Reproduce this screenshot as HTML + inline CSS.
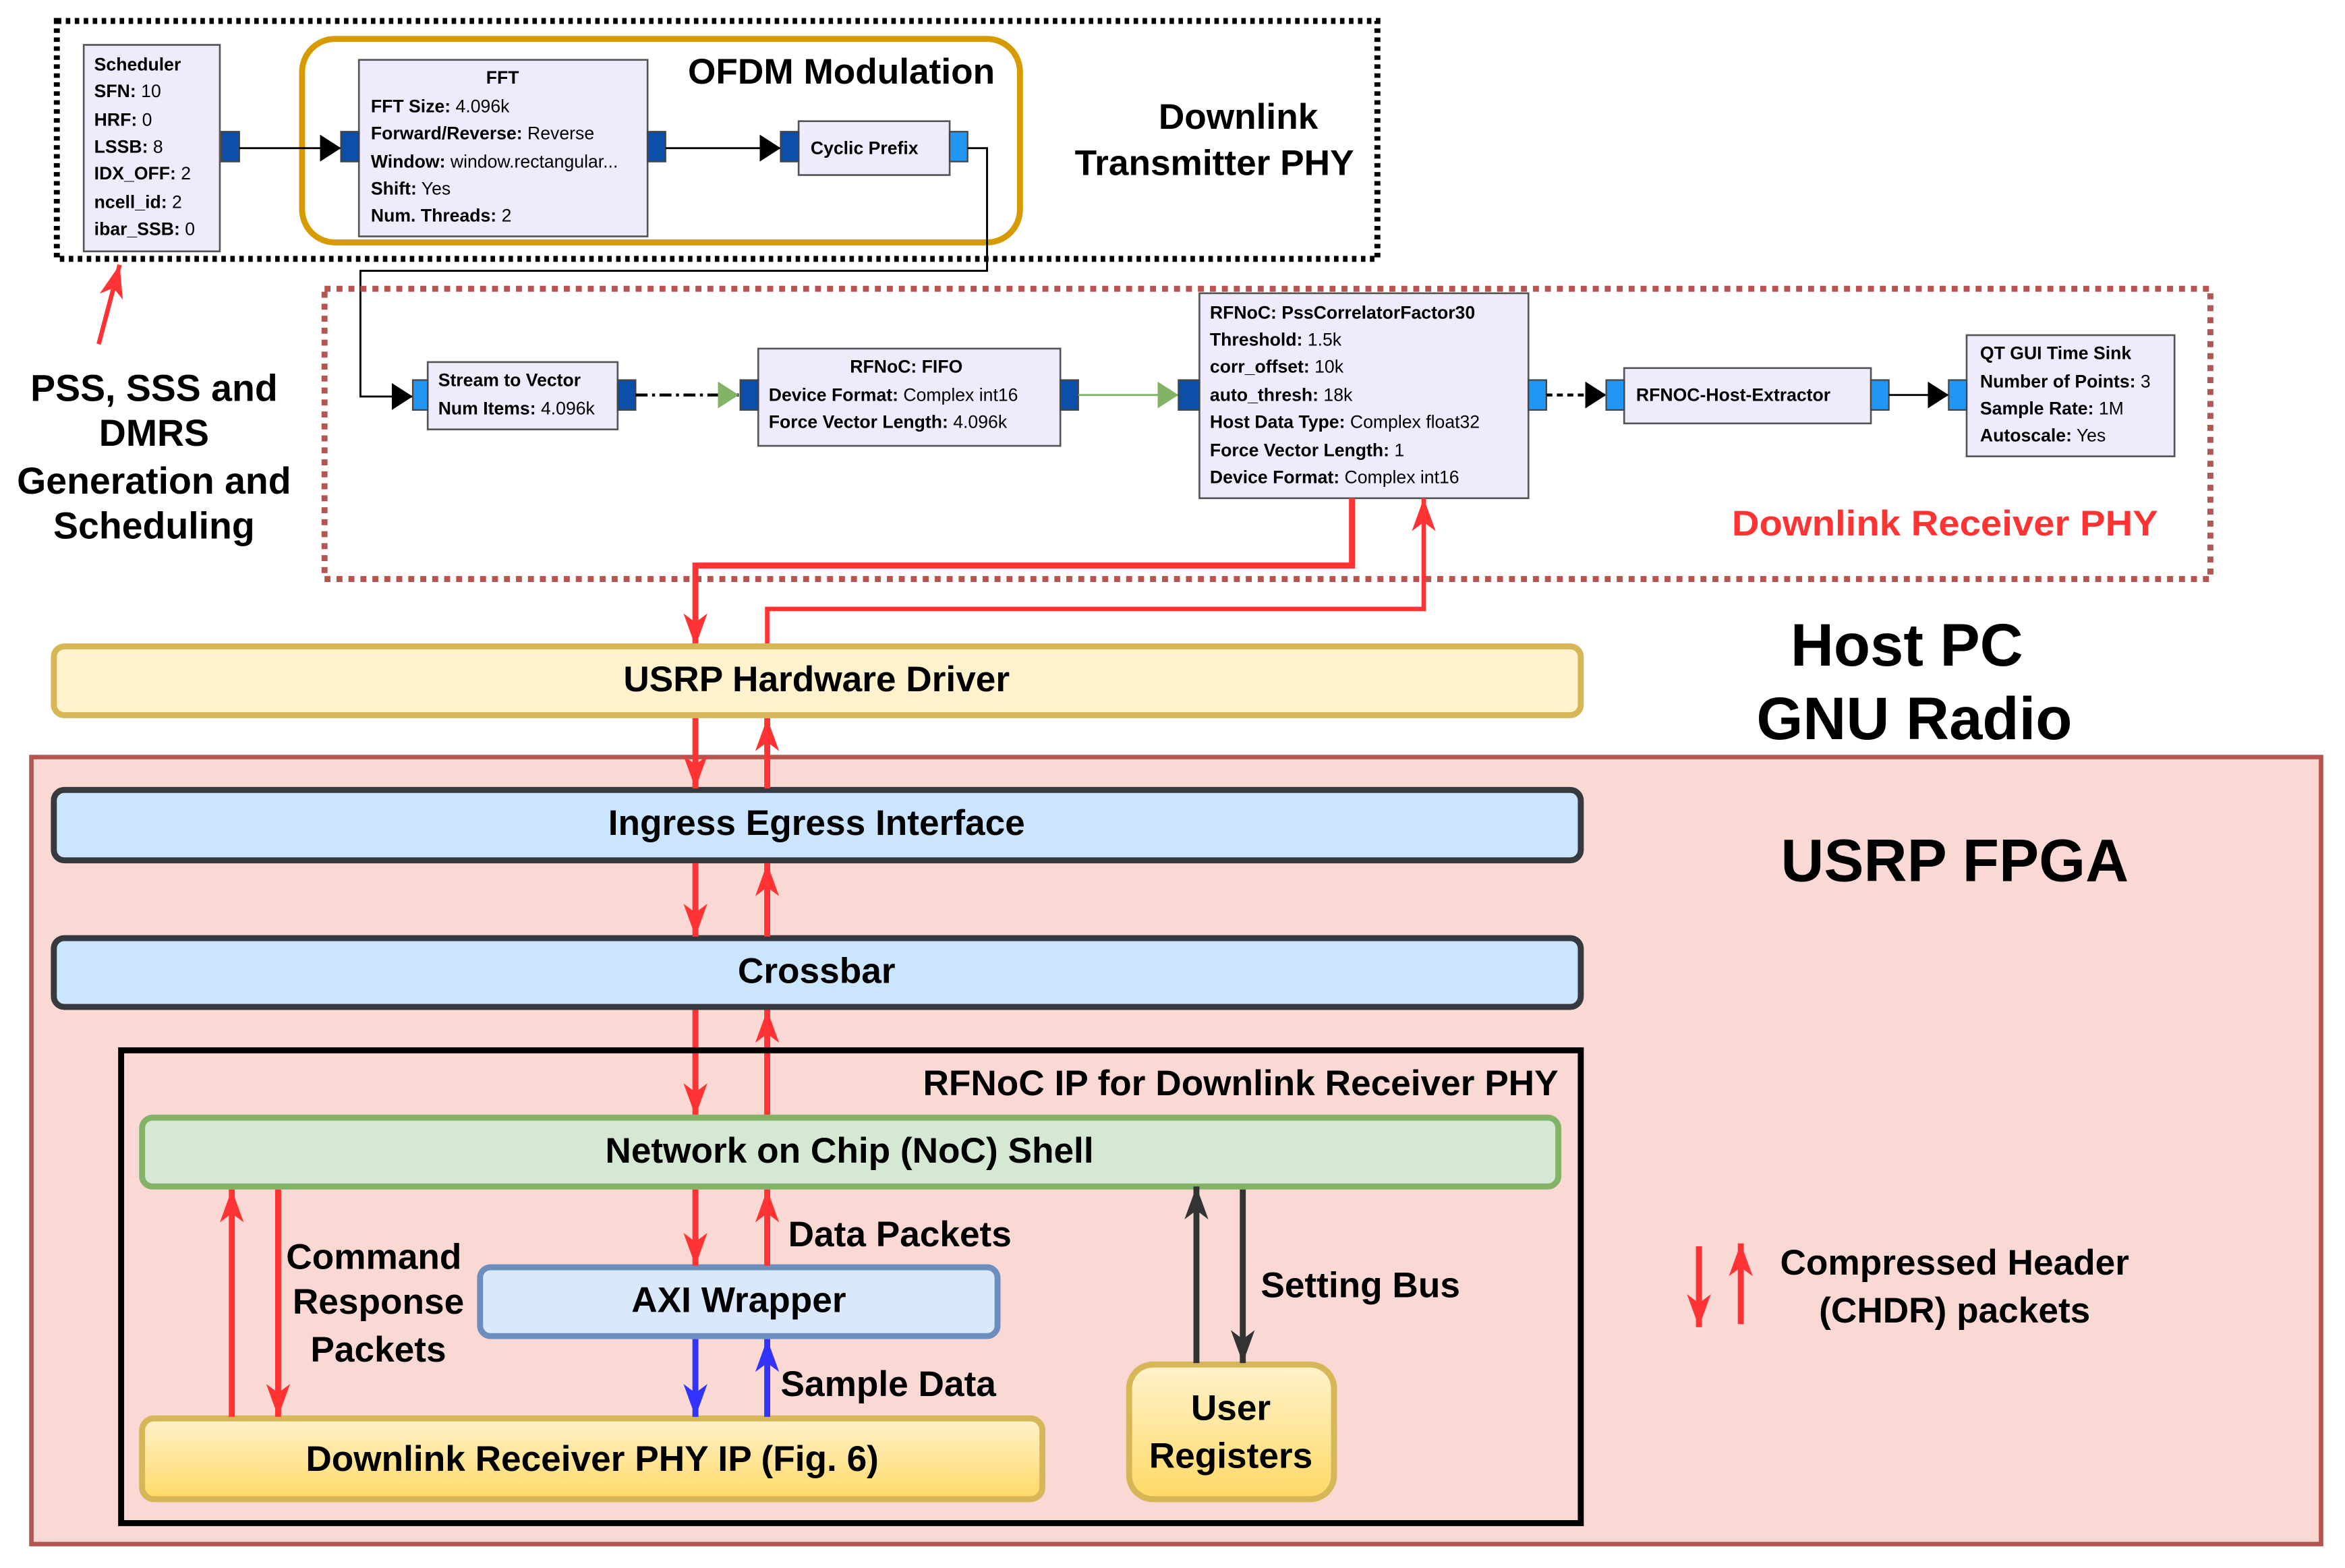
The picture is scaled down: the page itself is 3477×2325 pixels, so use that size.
<!DOCTYPE html>
<html><head><meta charset="utf-8"><style>
html,body{margin:0;padding:0;background:#fff;}
svg{display:block;}
text{font-family:"Liberation Sans",sans-serif;}
.b{font-weight:bold;}
.g{font-size:12px;}
.L{font-size:24px;font-weight:bold;}
</style></head><body>
<svg width="3477" height="2325" viewBox="0 0 1568 1048" preserveAspectRatio="none" xmlns="http://www.w3.org/2000/svg">
<defs>
<marker id="mr" markerUnits="userSpaceOnUse" markerWidth="24" markerHeight="18" refX="22" refY="9" orient="auto"><path d="M0,1 L22,9 L0,17 L6,9 Z" fill="#ff3333"/></marker>
<marker id="mb" markerUnits="userSpaceOnUse" markerWidth="24" markerHeight="18" refX="22" refY="9" orient="auto"><path d="M0,1 L22,9 L0,17 L6,9 Z" fill="#3333ff"/></marker>
<marker id="md" markerUnits="userSpaceOnUse" markerWidth="24" markerHeight="18" refX="22" refY="9" orient="auto"><path d="M0,1 L22,9 L0,17 L6,9 Z" fill="#333333"/></marker>
<marker id="mk" markerUnits="userSpaceOnUse" markerWidth="16" markerHeight="20" refX="14" refY="10" orient="auto"><path d="M0,1 L14,10 L0,19 Z" fill="#000"/></marker>
<marker id="mg" markerUnits="userSpaceOnUse" markerWidth="16" markerHeight="20" refX="14" refY="10" orient="auto"><path d="M0,1 L14,10 L0,19 Z" fill="#82b366"/></marker>
<linearGradient id="yg" x1="0" y1="0" x2="0" y2="1"><stop offset="0" stop-color="#fff2cc"/><stop offset="1" stop-color="#ffd966"/></linearGradient>
</defs>

<rect x="38" y="14" width="883" height="159" fill="none" stroke="#000" stroke-width="4" stroke-dasharray="3,3"/>
<rect x="202" y="26" width="480" height="136" rx="22" fill="none" stroke="#d79b00" stroke-width="4"/>
<text x="460" y="56" class="L">OFDM Modulation</text>
<text x="828" y="86" class="L" text-anchor="middle">Downlink</text>
<text x="812" y="117" class="L" text-anchor="middle">Transmitter PHY</text>

<rect x="56" y="30" width="91" height="138" fill="#efebfd" stroke="#555" stroke-width="1.2"/>
<g class="g">
<text x="63" y="47" class="b">Scheduler</text>
<text x="63" y="65"><tspan class="b">SFN:</tspan> 10</text>
<text x="63" y="84"><tspan class="b">HRF:</tspan> 0</text>
<text x="63" y="102"><tspan class="b">LSSB:</tspan> 8</text>
<text x="63" y="120"><tspan class="b">IDX_OFF:</tspan> 2</text>
<text x="63" y="139"><tspan class="b">ncell_id:</tspan> 2</text>
<text x="63" y="157"><tspan class="b">ibar_SSB:</tspan> 0</text>
</g>
<rect x="148" y="88" width="12" height="20" fill="#0b4fa8" stroke="#444"/>
<line x1="160" y1="99" x2="228" y2="99" stroke="#000" stroke-width="1.3" marker-end="url(#mk)"/>

<rect x="240" y="40" width="193" height="118" fill="#efebfd" stroke="#555" stroke-width="1.2"/>
<g class="g">
<text x="336" y="56" class="b" text-anchor="middle">FFT</text>
<text x="248" y="75"><tspan class="b">FFT Size:</tspan> 4.096k</text>
<text x="248" y="93"><tspan class="b">Forward/Reverse:</tspan> Reverse</text>
<text x="248" y="112"><tspan class="b">Window:</tspan> window.rectangular...</text>
<text x="248" y="130"><tspan class="b">Shift:</tspan> Yes</text>
<text x="248" y="148"><tspan class="b">Num. Threads:</tspan> 2</text>
</g>
<rect x="228" y="88" width="12" height="20" fill="#0b4fa8" stroke="#444"/>
<rect x="433" y="88" width="12" height="20" fill="#0b4fa8" stroke="#444"/>
<line x1="445" y1="99" x2="522" y2="99" stroke="#000" stroke-width="1.3" marker-end="url(#mk)"/>
<rect x="534" y="81" width="101" height="36" fill="#efebfd" stroke="#555" stroke-width="1.2"/>
<text x="542" y="103" class="g b">Cyclic Prefix</text>
<rect x="522" y="88" width="12" height="20" fill="#0b4fa8" stroke="#444"/>
<rect x="635" y="88" width="12" height="20" fill="#2196f3" stroke="#444"/>
<polyline points="647,99 660,99 660,181 241,181 241,265 276,265" fill="none" stroke="#000" stroke-width="1.3" marker-end="url(#mk)"/>

<line x1="66" y1="230" x2="80" y2="177" stroke="#ff3333" stroke-width="3" marker-end="url(#mr)"/>
<g class="L" text-anchor="middle" style="font-size:25px">
<text x="103" y="268">PSS, SSS and</text>
<text x="103" y="298">DMRS</text>
<text x="103" y="330">Generation and</text>
<text x="103" y="360">Scheduling</text>
</g>

<rect x="217" y="193" width="1261" height="194" fill="none" stroke="#b85450" stroke-width="4" stroke-dasharray="4,4"/>
<rect x="286" y="242" width="127" height="45" fill="#efebfd" stroke="#555" stroke-width="1.2"/>
<g class="g">
<text x="293" y="258" class="b">Stream to Vector</text>
<text x="293" y="277"><tspan class="b">Num Items:</tspan> 4.096k</text>
</g>
<rect x="276" y="254" width="10" height="20" fill="#2196f3" stroke="#444"/>
<rect x="413" y="254" width="12" height="20" fill="#0b4fa8" stroke="#444"/>
<line x1="425" y1="264" x2="494" y2="264" stroke="#000" stroke-width="2" stroke-dasharray="8,3,2,3" marker-end="url(#mg)"/>
<rect x="507" y="233" width="202" height="65" fill="#efebfd" stroke="#555" stroke-width="1.2"/>
<g class="g">
<text x="606" y="249" class="b" text-anchor="middle">RFNoC: FIFO</text>
<text x="514" y="268"><tspan class="b">Device Format:</tspan> Complex int16</text>
<text x="514" y="286"><tspan class="b">Force Vector Length:</tspan> 4.096k</text>
</g>
<rect x="495" y="254" width="12" height="20" fill="#0b4fa8" stroke="#444"/>
<rect x="709" y="254" width="12" height="20" fill="#0b4fa8" stroke="#444"/>
<line x1="721" y1="264" x2="788" y2="264" stroke="#82b366" stroke-width="1.3" marker-end="url(#mg)"/>
<rect x="802" y="196" width="220" height="137" fill="#efebfd" stroke="#555" stroke-width="1.2"/>
<g class="g">
<text x="809" y="213" class="b">RFNoC: PssCorrelatorFactor30</text>
<text x="809" y="231"><tspan class="b">Threshold:</tspan> 1.5k</text>
<text x="809" y="249"><tspan class="b">corr_offset:</tspan> 10k</text>
<text x="809" y="268"><tspan class="b">auto_thresh:</tspan> 18k</text>
<text x="809" y="286"><tspan class="b">Host Data Type:</tspan> Complex float32</text>
<text x="809" y="305"><tspan class="b">Force Vector Length:</tspan> 1</text>
<text x="809" y="323"><tspan class="b">Device Format:</tspan> Complex int16</text>
</g>
<rect x="788" y="254" width="14" height="20" fill="#0b4fa8" stroke="#444"/>
<rect x="1022" y="254" width="12" height="20" fill="#2196f3" stroke="#444"/>
<line x1="1034" y1="264" x2="1074" y2="264" stroke="#000" stroke-width="2" stroke-dasharray="4,3" marker-end="url(#mk)"/>
<rect x="1086" y="246" width="165" height="37" fill="#efebfd" stroke="#555" stroke-width="1.2"/>
<text x="1094" y="268" class="g b">RFNOC-Host-Extractor</text>
<rect x="1074" y="254" width="12" height="20" fill="#2196f3" stroke="#444"/>
<rect x="1251" y="254" width="12" height="20" fill="#2196f3" stroke="#444"/>
<line x1="1263" y1="264" x2="1303" y2="264" stroke="#000" stroke-width="1.3" marker-end="url(#mk)"/>
<rect x="1315" y="224" width="139" height="81" fill="#efebfd" stroke="#555" stroke-width="1.2"/>
<g class="g">
<text x="1324" y="240" class="b">QT GUI Time Sink</text>
<text x="1324" y="259"><tspan class="b">Number of Points:</tspan> 3</text>
<text x="1324" y="277"><tspan class="b">Sample Rate:</tspan> 1M</text>
<text x="1324" y="295"><tspan class="b">Autoscale:</tspan> Yes</text>
</g>
<rect x="1303" y="254" width="12" height="20" fill="#2196f3" stroke="#444"/>
<text x="1158" y="358" class="L" fill="#ff3333" textLength="285" lengthAdjust="spacingAndGlyphs">Downlink Receiver PHY</text>

<polyline points="904,333 904,378 465,378 465,432" fill="none" stroke="#ff3333" stroke-width="4" marker-end="url(#mr)"/>
<polyline points="513,432 513,407 952,407 952,333" fill="none" stroke="#ff3333" stroke-width="3" marker-end="url(#mr)"/>

<text x="1275" y="445" class="L" text-anchor="middle" style="font-size:40px">Host PC</text>
<text x="1280" y="494" class="L" text-anchor="middle" style="font-size:40px">GNU Radio</text>

<rect x="21" y="506" width="1531" height="526" fill="#fad9d5" stroke="#b85450" stroke-width="3"/>
<text x="1307" y="589" class="L" text-anchor="middle" style="font-size:40px">USRP FPGA</text>

<rect x="36" y="432" width="1021" height="46" rx="7" fill="#fff2cc" stroke="#d6b656" stroke-width="4"/>
<text x="546" y="462" class="L" text-anchor="middle">USRP Hardware Driver</text>
<rect x="36" y="528" width="1021" height="47" rx="7" fill="#cce5ff" stroke="#36393d" stroke-width="4"/>
<text x="546" y="558" class="L" text-anchor="middle">Ingress Egress Interface</text>
<rect x="36" y="627" width="1021" height="46" rx="7" fill="#cce5ff" stroke="#36393d" stroke-width="4"/>
<text x="546" y="657" class="L" text-anchor="middle">Crossbar</text>

<g stroke="#ff3333" stroke-width="4" fill="none">
<line x1="465" y1="480" x2="465" y2="527" marker-end="url(#mr)"/>
<line x1="513" y1="527" x2="513" y2="480" marker-end="url(#mr)"/>
<line x1="465" y1="577" x2="465" y2="626" marker-end="url(#mr)"/>
<line x1="513" y1="626" x2="513" y2="577" marker-end="url(#mr)"/>
<line x1="465" y1="675" x2="465" y2="746" marker-end="url(#mr)"/>
<line x1="513" y1="746" x2="513" y2="675" marker-end="url(#mr)"/>
</g>

<rect x="81" y="702" width="976" height="316" fill="none" stroke="#000" stroke-width="4"/>
<text x="1042" y="732" class="L" text-anchor="end">RFNoC IP for Downlink Receiver PHY</text>

<rect x="95" y="747" width="947" height="46" rx="7" fill="#d5e8d4" stroke="#82b366" stroke-width="4"/>
<text x="568" y="777" class="L" text-anchor="middle">Network on Chip (NoC) Shell</text>
<rect x="321" y="847" width="346" height="46" rx="7" fill="#dae8fc" stroke="#6c8ebf" stroke-width="4"/>
<text x="494" y="877" class="L" text-anchor="middle">AXI Wrapper</text>
<rect x="95" y="948" width="602" height="54" rx="8" fill="url(#yg)" stroke="#d6b656" stroke-width="4"/>
<text x="396" y="983" class="L" text-anchor="middle">Downlink Receiver PHY IP (Fig. 6)</text>
<rect x="755" y="912" width="137" height="90" rx="16" fill="url(#yg)" stroke="#d6b656" stroke-width="4"/>
<text x="823" y="949" class="L" text-anchor="middle">User</text>
<text x="823" y="981" class="L" text-anchor="middle">Registers</text>

<g stroke-width="4" fill="none">
<line x1="465" y1="795" x2="465" y2="846" stroke="#ff3333" marker-end="url(#mr)"/>
<line x1="513" y1="846" x2="513" y2="795" stroke="#ff3333" marker-end="url(#mr)"/>
<line x1="465" y1="895" x2="465" y2="947" stroke="#3333ff" marker-end="url(#mb)"/>
<line x1="513" y1="947" x2="513" y2="895" stroke="#3333ff" marker-end="url(#mb)"/>
<line x1="155" y1="947" x2="155" y2="795" stroke="#ff3333" marker-end="url(#mr)"/>
<line x1="186" y1="795" x2="186" y2="947" stroke="#ff3333" marker-end="url(#mr)"/>
<line x1="800" y1="911" x2="800" y2="793" stroke="#333" marker-end="url(#md)"/>
<line x1="831" y1="795" x2="831" y2="911" stroke="#333" marker-end="url(#md)"/>
<line x1="1136" y1="833" x2="1136" y2="887" stroke="#ff3333" marker-end="url(#mr)"/>
<line x1="1164" y1="885" x2="1164" y2="831" stroke="#ff3333" marker-end="url(#mr)"/>
</g>

<g class="L">
<text x="250" y="848" text-anchor="middle">Command</text>
<text x="253" y="878" text-anchor="middle">Response</text>
<text x="253" y="910" text-anchor="middle">Packets</text>
<text x="527" y="833">Data Packets</text>
<text x="522" y="933">Sample Data</text>
<text x="843" y="867">Setting Bus</text>
<text x="1307" y="852" text-anchor="middle">Compressed Header</text>
<text x="1307" y="884" text-anchor="middle">(CHDR) packets</text>
</g>
</svg>
</body></html>
